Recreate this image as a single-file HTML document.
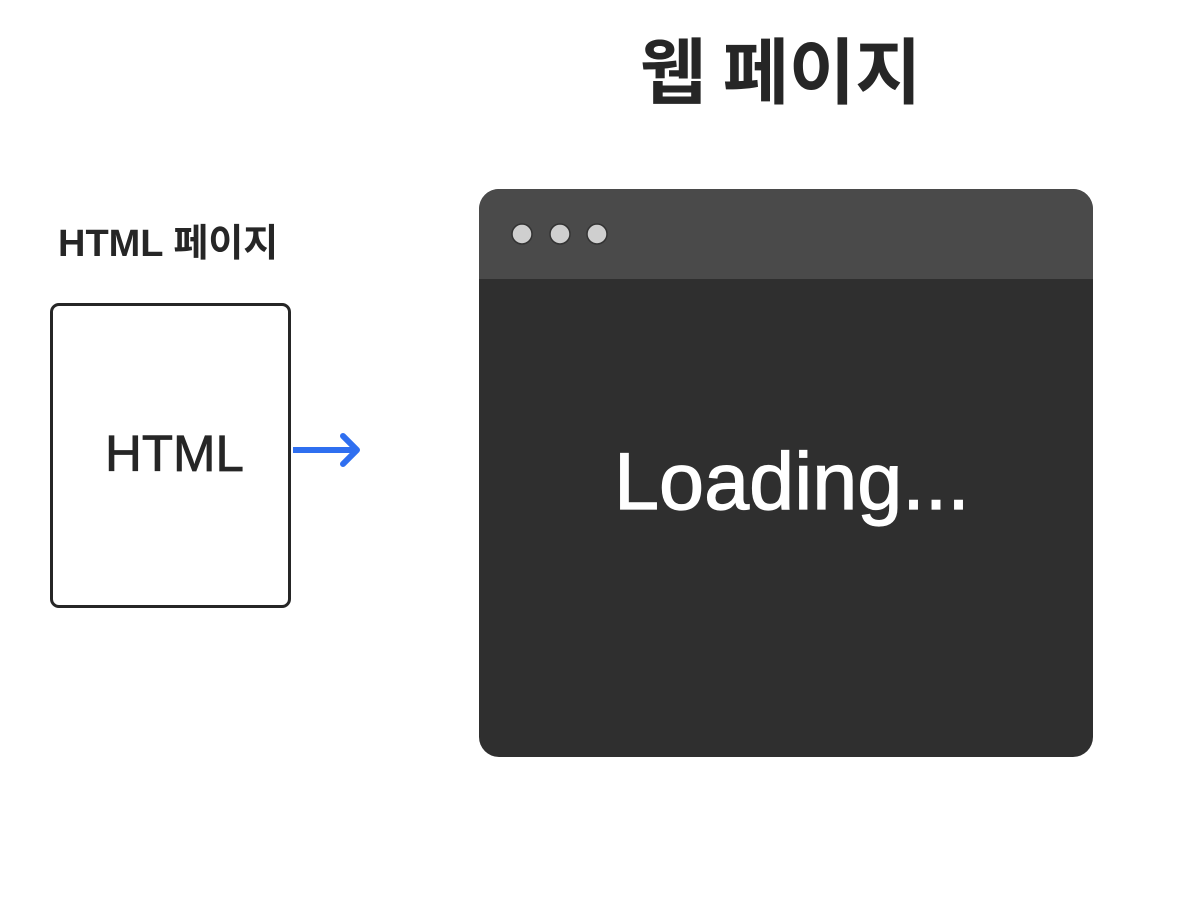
<!DOCTYPE html>
<html><head><meta charset="utf-8"><style>
body{margin:0;width:1200px;height:900px;background:#fff;position:relative;overflow:hidden;font-family:"Liberation Sans","Noto Sans CJK KR",sans-serif;color:#262626}
.t{position:absolute;white-space:nowrap;line-height:1}
</style></head><body>
<div class="t" style="left:640px;top:31px;font-size:72px;font-weight:bold;letter-spacing:0px;font-family:'Noto Sans CJK KR',sans-serif;">웹 페이지</div>
<div class="t" style="left:58px;top:225px;font-size:38px;font-weight:bold;letter-spacing:0px;">HTML 페이지</div>
<div style="position:absolute;left:50px;top:303px;width:235px;height:299px;border:3px solid #262626;border-radius:9px;"></div>
<div class="t" style="left:105px;top:428px;font-size:51px;-webkit-text-stroke:0.8px #262626;">HTML</div>
<svg style="position:absolute;left:0;top:0" width="1200" height="900">
<line x1="293" y1="450" x2="354" y2="450" stroke="#2f6ff0" stroke-width="6"/>
<polyline points="343,436 357,450 343,464" fill="none" stroke="#2f6ff0" stroke-width="6" stroke-linecap="round" stroke-linejoin="round"/>
</svg>
<div style="position:absolute;left:479px;top:189px;width:614px;height:568px;border-radius:20px;background:#2f2f2f;overflow:hidden;">
<div style="height:90px;background:#4a4a4a;"></div>
</div>
<svg style="position:absolute;left:0;top:0" width="1200" height="900">
<circle cx="522" cy="234" r="10" fill="#cfcfcf" stroke="#333" stroke-width="1.5"/>
<circle cx="560" cy="234" r="10" fill="#cfcfcf" stroke="#333" stroke-width="1.5"/>
<circle cx="597" cy="234" r="10" fill="#cfcfcf" stroke="#333" stroke-width="1.5"/>
</svg>
<div class="t" style="left:614px;top:442px;font-size:81px;color:#fff;-webkit-text-stroke:1.2px #fff;">Loading...</div>
</body></html>
